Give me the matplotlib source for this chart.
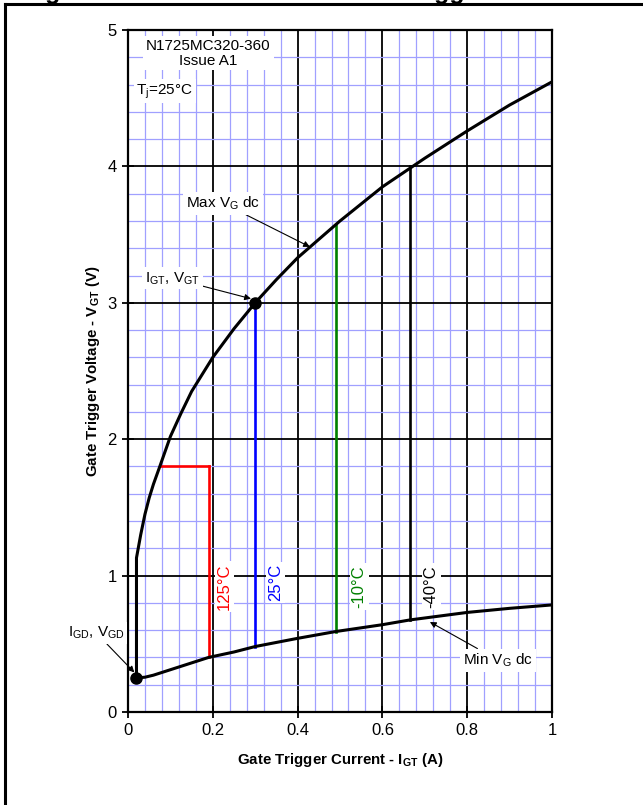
import matplotlib
matplotlib.use("Agg")
import matplotlib.pyplot as plt
from matplotlib.ticker import MultipleLocator, FixedLocator
from matplotlib.lines import Line2D

plt.rcParams['font.family'] = ['Liberation Sans', 'DejaVu Sans']
plt.rcParams['mathtext.fontset'] = 'custom'
plt.rcParams['mathtext.rm'] = 'Liberation Sans'
plt.rcParams['mathtext.bf'] = 'Liberation Sans:bold'

# max VG dc curve
max_i = [0.02, 0.02, 0.03, 0.04, 0.05, 0.06, 0.075, 0.1, 0.125, 0.15, 0.2, 0.25, 0.3, 0.35, 0.4, 0.5,
         0.6, 0.7, 0.8, 0.9, 1.0]
max_v = [0.25, 1.13, 1.30, 1.45, 1.57, 1.67, 1.80, 2.02, 2.19, 2.35, 2.60, 2.81, 3.00, 3.17, 3.33, 3.60,
         3.85, 4.06, 4.26, 4.45, 4.62]

# min VG dc curve
min_i = [0.02, 0.04, 0.06, 0.1, 0.15, 0.19, 0.25, 0.3, 0.4, 0.49, 0.6, 0.665, 0.8, 0.9, 1.0]
min_v = [0.25, 0.255, 0.27, 0.31, 0.36, 0.40, 0.44, 0.48, 0.54, 0.59, 0.64, 0.675, 0.73, 0.76, 0.785]

# trigger limits per temperature
temps = ["125°C", "25°C", "-10°C", "-40°C"]
t_colors = ["red", "blue", "green", "black"]
t_igt = [0.19, 0.30, 0.49, 0.665]
t_vlow = [0.40, 0.48, 0.59, 0.675]
t_vgt = [1.80, 3.00, 3.57, 4.00]
t_label_x = [0.228, 0.348, 0.545, 0.715]
t_label_y = [0.92, 0.95, 0.92, 0.92]
red_ext = 0.075  # left end of the 125°C horizontal

igt_pt = (0.30, 3.00)
igd_pt = (0.02, 0.25)

fig = plt.figure(figsize=(6.43, 8.05), dpi=100)
ax = fig.add_axes([128/643, 1-712/805, 424/643, 682/805])

# page frame and cut-off caption
fig.add_artist(Line2D([5/643, 5/643], [0, 1-4/805], transform=fig.transFigure, color='black', lw=2.2))
fig.add_artist(Line2D([5/643, 1], [1-4/805, 1-4/805], transform=fig.transFigure, color='black', lw=2.2))
fig.text(0.035, 1+1.0/805, "Figure 9 - Gate characteristics - Trigger limits", fontsize=18, fontweight='bold',
         va='baseline', ha='left')

ax.set_xlim(0, 1)
ax.set_ylim(0, 5)
ax.xaxis.set_major_locator(FixedLocator([0, 0.2, 0.4, 0.6, 0.8, 1.0]))
ax.set_xticklabels(["0", "0.2", "0.4", "0.6", "0.8", "1"])
ax.yaxis.set_major_locator(MultipleLocator(1))
ax.xaxis.set_minor_locator(MultipleLocator(0.04))
ax.yaxis.set_minor_locator(MultipleLocator(0.2))
ax.grid(which='minor', color='#a0a0ff', lw=0.9)
ax.grid(which='major', color='black', lw=1.3)
ax.set_axisbelow(True)
ax.tick_params(which='major', direction='inout', length=8, width=1.3, labelsize=12, pad=4)
ax.tick_params(which='minor', length=0)
for s in ax.spines.values():
    s.set_linewidth(1.6)

ax.plot(max_i, max_v, color='black', lw=2.2, zorder=4)
ax.plot(min_i, min_v, color='black', lw=2.2, zorder=4)

for k in range(len(temps)):
    ax.plot([t_igt[k], t_igt[k]], [t_vlow[k], t_vgt[k]], color=t_colors[k], lw=1.9, zorder=3)
    ax.text(t_label_x[k], t_label_y[k], temps[k], color=t_colors[k], rotation=90, fontsize=12,
            ha='center', va='center', zorder=5,
            bbox=dict(facecolor='white', edgecolor='none', pad=1.5))
ax.plot([red_ext, t_igt[0]], [t_vgt[0], t_vgt[0]], color='red', lw=1.9, zorder=3)

ax.plot(*igt_pt, 'o', color='black', ms=8, zorder=6)
ax.plot(*igd_pt, 'o', color='black', ms=8, zorder=6, clip_on=False)

box = dict(facecolor='white', edgecolor='none', pad=2)
ax.text(0.19, 4.83, "N1725MC320-360\nIssue A1", fontsize=11, ha='center', va='center',
        linespacing=1.1, bbox=box, zorder=5)
ax.text(0.02, 4.55, "T$_\\mathrm{j}$=25°C", fontsize=11, ha='left', va='center', bbox=box, zorder=5)

arr = dict(arrowstyle='-|>', color='black', lw=0.8, mutation_scale=9, shrinkA=0, shrinkB=0)
ax.annotate("Max V$_\\mathrm{G}$ dc", xy=(0.429, 3.41), xytext=(0.224, 3.73), fontsize=11,
            ha='center', va='center', bbox=box, arrowprops=arr, zorder=5)
ax.annotate("I$_\\mathrm{GT}$, V$_\\mathrm{GT}$", xy=(0.29, 3.03), xytext=(0.105, 3.18), fontsize=11,
            ha='center', va='center', bbox=box, arrowprops=arr, zorder=5)
ax.annotate("I$_\\mathrm{GD}$, V$_\\mathrm{GD}$", xy=(0.015, 0.29), xytext=(-0.075, 0.58), fontsize=11,
            ha='center', va='center', bbox=box, arrowprops=arr, zorder=5, annotation_clip=False)
ax.annotate("Min V$_\\mathrm{G}$ dc", xy=(0.712, 0.66), xytext=(0.873, 0.38), fontsize=11,
            ha='center', va='center', bbox=box, arrowprops=arr, zorder=5)

ax.set_xlabel("Gate Trigger Current - I$_\\mathbf{GT}$ (A)", fontsize=10.8, fontweight='bold', labelpad=9)
ax.set_ylabel("Gate Trigger Voltage - V$_\\mathbf{GT}$ (V)", fontsize=10.8, fontweight='bold', labelpad=4)

fig.savefig("out.png", dpi=100)
